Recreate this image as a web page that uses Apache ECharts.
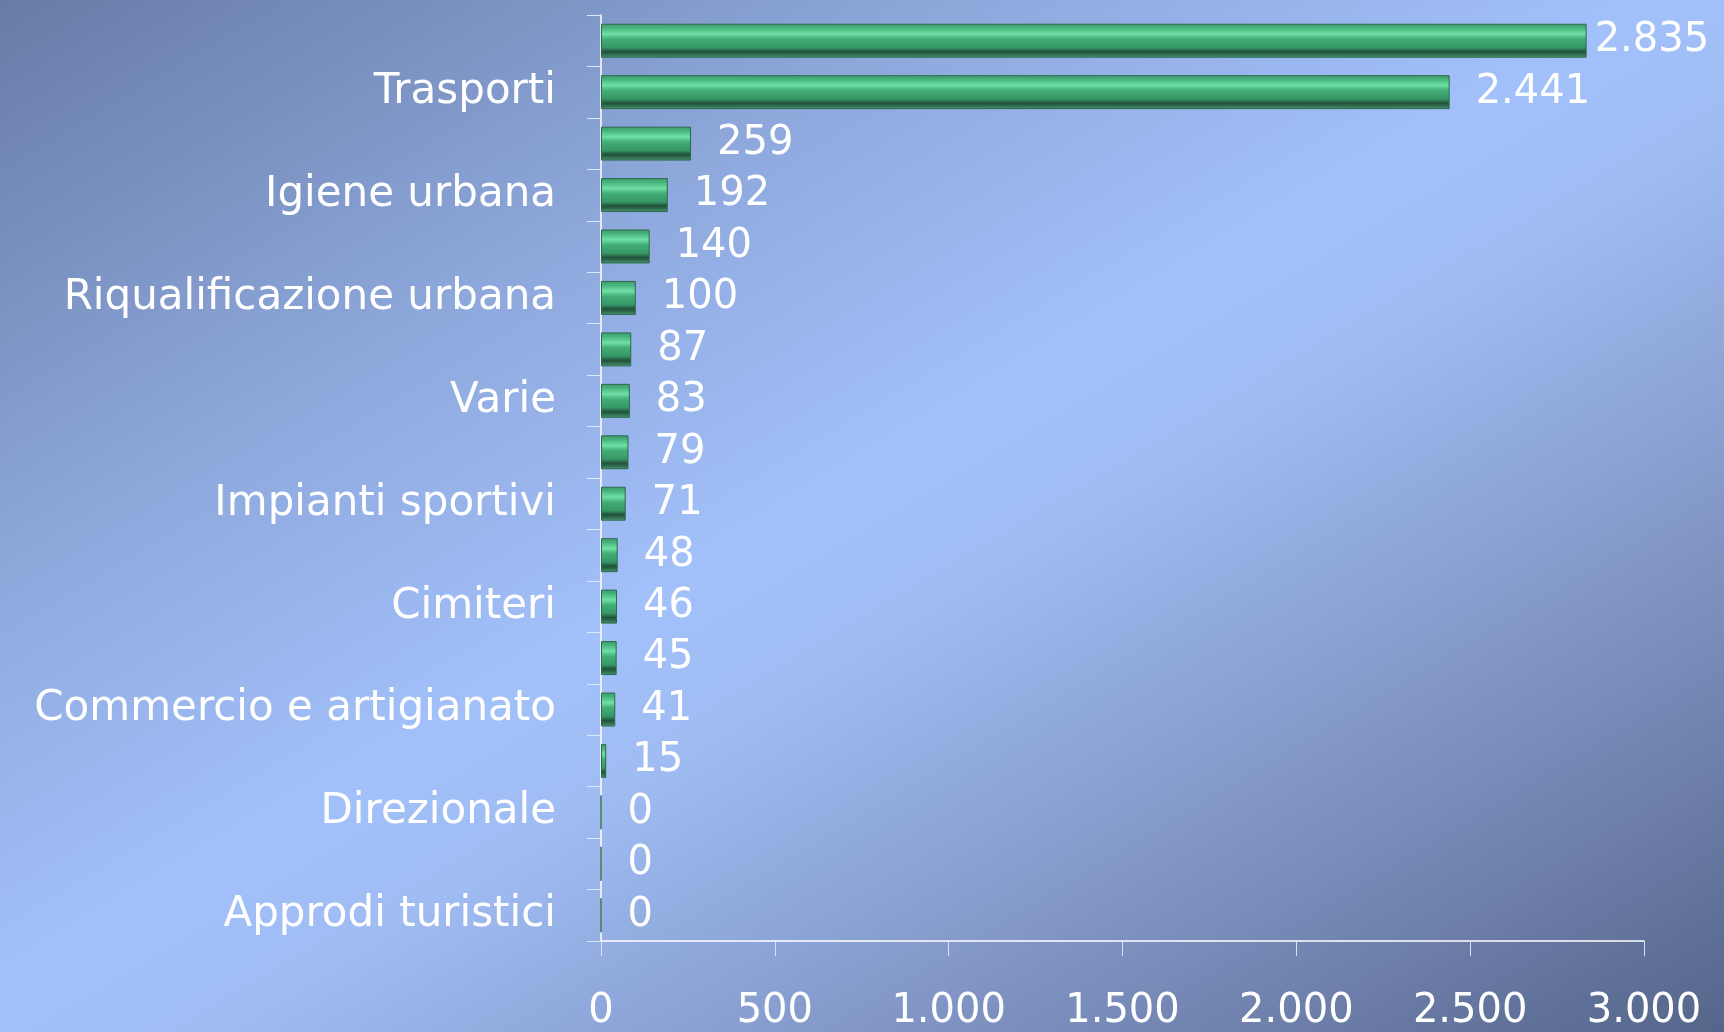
<!DOCTYPE html>
<html>
<head>
<meta charset="utf-8">
<script src="https://cdn.jsdelivr.net/npm/echarts@6/dist/echarts.min.js"></script>
<style>
    html, body { margin: 0; padding: 0; }
    body {
        width: 1724px;
        height: 1032px;
        background: linear-gradient(to bottom right, #677ba6 0%, #8ea8dc 28%, #a2c0fa 48%, #9fbcf3 56%, #7d91c0 78%, #55658a 100%);
    }
    #chart { width: 1724px; height: 1032px; }
</style>
</head>
<body>
<div id="chart"></div>
<script>
// Categories top to bottom; Excel only printed every other name
const categories = [
    '', 'Trasporti', '', 'Igiene urbana', '', 'Riqualificazione urbana',
    '', 'Varie', '', 'Impianti sportivi', '', 'Cimiteri',
    '', 'Commercio e artigianato', '', 'Direzionale', '', 'Approdi turistici'
];
const values = [2835, 2441, 259, 192, 140, 100, 87, 83, 79, 71, 48, 46, 45, 41, 15, 0, 0, 0];
const xTicks = [0, 500, 1000, 1500, 2000, 2500, 3000];

const fontFamily = '"DejaVu Sans", Verdana, sans-serif';

// Italian thousands separator: 2835 -> 2.835
function formatIt(v) {
    return String(v).replace(/\B(?=(\d{3})+(?!\d))/g, '.');
}

const chart = echarts.init(document.getElementById('chart'));

const barGradient = new echarts.graphic.LinearGradient(0, 0, 0, 1, [
    { offset: 0, color: '#3f9a6d' },
    { offset: 0.12, color: '#48b27c' },
    { offset: 0.3, color: '#6fe0a6' },
    { offset: 0.45, color: '#44ad77' },
    { offset: 0.7, color: '#369766' },
    { offset: 0.82, color: '#22523a' },
    { offset: 0.9, color: '#2d6a4b' },
    { offset: 1, color: '#4f9c7c' }
]);

// the longest bar's label sits closer, as in the original
const barData = values.map((v, i) => i === 0 ? { value: v, label: { distance: 8 } } : v);

chart.setOption({
    backgroundColor: 'transparent',
    animation: false,
    grid: { left: 601, right: 80, top: 15, bottom: 91, containLabel: false },
    xAxis: {
        type: 'value',
        min: 0,
        max: 3000,
        interval: 500,
        axisLine: { show: true, lineStyle: { color: '#ffffff', width: 1.5 } },
        axisTick: { show: true, length: 15, lineStyle: { color: '#d8e2f5', width: 1 } },
        splitLine: { show: false },
        axisLabel: {
            color: '#ffffff',
            fontFamily: fontFamily,
            fontSize: 40,
            margin: 51,
            formatter: v => xTicks.includes(v) ? formatIt(v) : ''
        }
    },
    yAxis: {
        type: 'category',
        inverse: true,
        data: categories,
        axisLine: { show: true, lineStyle: { color: '#ffffff', width: 1.5 } },
        axisTick: { show: true, interval: 0, length: 14, lineStyle: { color: '#dfe8fa', width: 1 } },
        axisLabel: {
            interval: 0,
            color: '#ffffff',
            fontFamily: fontFamily,
            fontSize: 42,
            margin: 45
        }
    },
    series: [{
        type: 'bar',
        data: barData,
        barWidth: '66%',
        itemStyle: {
            color: barGradient,
            borderColor: '#2b6a4b',
            borderWidth: 1
        },
        label: {
            show: true,
            position: 'right',
            distance: 26,
            color: '#ffffff',
            fontFamily: fontFamily,
            fontSize: 40,
            formatter: p => formatIt(p.value)
        }
    }]
});

window.addEventListener('resize', () => chart.resize());
</script>
</body>
</html>
